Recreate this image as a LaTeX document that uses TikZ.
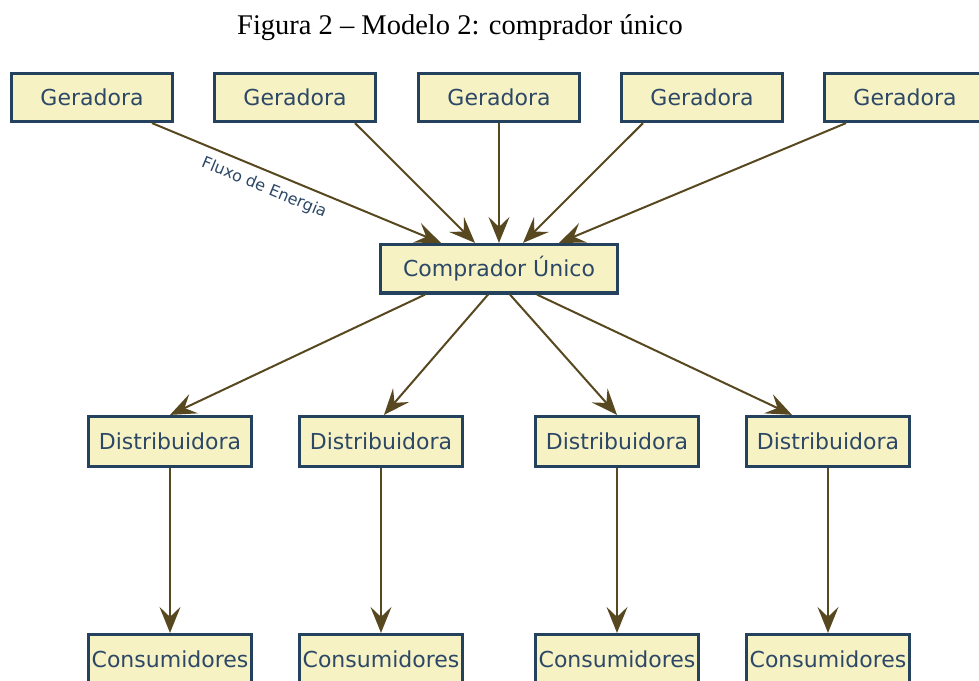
\documentclass[tikz,border=0pt]{standalone}
\usepackage{fontspec}
\setmainfont{Liberation Serif}
\newfontfamily\boxfont{DejaVu Sans}
\usetikzlibrary{arrows.meta}
\definecolor{boxfill}{RGB}{247,242,196}
\definecolor{boxline}{RGB}{36,66,94}
\definecolor{boxtext}{RGB}{44,72,102}
\definecolor{flowcol}{RGB}{88,72,32}
\tikzset{
  box/.style={draw=boxline, line width=3.2pt, fill=boxfill, text=boxtext,
    inner sep=0pt, font=\boxfont\fontsize{22}{26}\selectfont},
  gen/.style={box, minimum width=161pt, minimum height=48pt},
  buyer/.style={box, minimum width=237pt, minimum height=48.5pt},
  dist/.style={box, minimum width=163pt, minimum height=50pt},
  flow/.style={draw=flowcol, line width=2pt,
    -{Stealth[length=26pt, width=21pt, inset=10pt]}},
  flowlabel/.style={text=boxtext, font=\boxfont\fontsize{16}{19}\selectfont}
}
\begin{document}
\begin{tikzpicture}[x=1pt, y=-1pt]
  \useasboundingbox (0,0) rectangle (979,680);
  \node[font=\fontsize{28.5}{32}\selectfont] (title) at (460,28) {Figura 2 -- Modelo 2: comprador único};

  % generators
  \node[gen] (g1) at (92,97.5) {Geradora};
  \node[gen] (g2) at (295,97.5) {Geradora};
  \node[gen] (g3) at (499,97.5) {Geradora};
  \node[gen] (g4) at (702,97.5) {Geradora};
  \node[gen] (g5) at (905,97.5) {Geradora};

  % single buyer
  \node[buyer] (cu) at (499,268.75) {Comprador Único};

  % distributors
  \node[dist] (d1) at (170,441.5) {Distribuidora};
  \node[dist] (d2) at (381,441.5) {Distribuidora};
  \node[dist] (d3) at (617,441.5) {Distribuidora};
  \node[dist] (d4) at (828,441.5) {Distribuidora};

  % consumers
  \node[dist] (c1) at (170,659.5) {Consumidores};
  \node[dist] (c2) at (381,659.5) {Consumidores};
  \node[dist] (c3) at (617,659.5) {Consumidores};
  \node[dist] (c4) at (828,659.5) {Consumidores};

  % generation to buyer
  \draw[flow] ([xshift=60]g1.south) -- node[flowlabel, sloped, pos=0.41, below=5pt] {Fluxo de Energia} ([xshift=-58]cu.north);
  \draw[flow] ([xshift=60]g2.south) -- ([xshift=-24]cu.north);
  \draw[flow] (g3.south) -- (cu.north);
  \draw[flow] ([xshift=-59]g4.south) -- ([xshift=24]cu.north);
  \draw[flow] ([xshift=-59]g5.south) -- ([xshift=60]cu.north);

  % buyer to distributors
  \draw[flow] ([xshift=-74]cu.south) -- (d1.north);
  \draw[flow] ([xshift=-11]cu.south) -- ([xshift=3]d2.north);
  \draw[flow] ([xshift=11]cu.south) -- (d3.north);
  \draw[flow] ([xshift=38]cu.south) -- ([xshift=-36]d4.north);

  % distributors to consumers
  \draw[flow] (d1.south) -- (c1.north);
  \draw[flow] (d2.south) -- (c2.north);
  \draw[flow] (d3.south) -- (c3.north);
  \draw[flow] (d4.south) -- (c4.north);
\end{tikzpicture}
\end{document}
